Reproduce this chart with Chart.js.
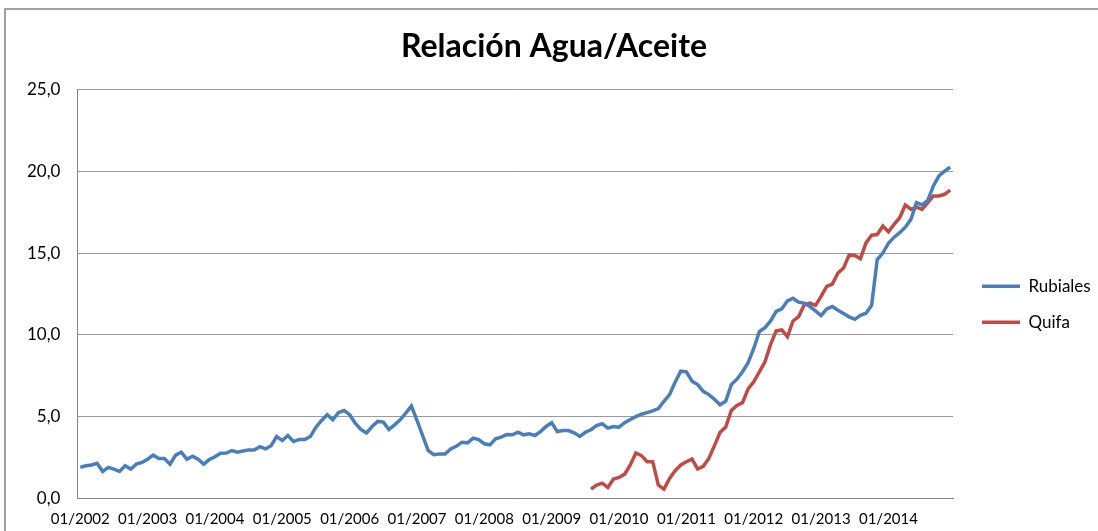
<!DOCTYPE html>
<html>
<head>
<meta charset="utf-8">
<script src="https://cdn.jsdelivr.net/npm/chart.js@4/dist/chart.umd.min.js"></script>
<style>
  html, body { margin: 0; padding: 0; background: #fff; }
  #wrap { position: relative; width: 1098px; height: 531px; overflow: hidden; }
  #frame { position: absolute; left: 4px; top: 8px; width: 1200px; height: 600px;
           border-top: 2px solid #a0a0a0; border-left: 2px solid #a0a0a0; pointer-events: none; }
</style>
</head>
<body>
<div id="wrap">
  <canvas id="chart1" width="1098" height="531"></canvas>
  <div id="frame"></div>
</div>
<script>
// monthly data 01/2002 - 12/2014
const years = [2002, 2003, 2004, 2005, 2006, 2007, 2008, 2009, 2010, 2011, 2012, 2013, 2014]
const months = ['01','02','03','04','05','06','07','08','09','10','11','12']

const rubiales = [
  1.9, 2.0, 2.05, 2.15, 1.65, 1.9, 1.8, 1.65, 2.0, 1.8, 2.1, 2.2,
  2.4, 2.65, 2.45, 2.45, 2.1, 2.65, 2.83, 2.4, 2.58, 2.4, 2.1, 2.38,
  2.55, 2.76, 2.78, 2.93, 2.83, 2.9, 2.97, 2.97, 3.17, 3.03, 3.23, 3.79,
  3.54, 3.85, 3.48, 3.61, 3.61, 3.79, 4.36, 4.77, 5.12, 4.81, 5.24, 5.38,
  5.12, 4.6, 4.22, 4.01, 4.4, 4.71, 4.67, 4.22, 4.5, 4.81, 5.22, 5.65,
  4.77, 3.85, 2.93, 2.68, 2.72, 2.72, 3.03, 3.19, 3.44, 3.4, 3.69, 3.6,
  3.34, 3.28, 3.65, 3.75, 3.91, 3.89, 4.05, 3.89, 3.95, 3.85, 4.09, 4.4,
  4.63, 4.09, 4.15, 4.15, 4.01, 3.8, 4.05, 4.2, 4.45, 4.57, 4.3, 4.4,
  4.36, 4.63, 4.83, 5.0, 5.15, 5.25, 5.35, 5.49, 5.94, 6.35, 7.12, 7.78,
  7.74, 7.17, 6.96, 6.55, 6.35, 6.06, 5.73, 5.94, 6.96, 7.29, 7.75, 8.3,
  9.17, 10.2, 10.44, 10.85, 11.43, 11.59, 12.08, 12.24, 12.0, 11.94, 11.73, 11.47,
  11.18, 11.59, 11.73, 11.5, 11.3, 11.1, 10.95, 11.2, 11.32, 11.8, 14.6, 15.0,
  15.6, 15.97, 16.24, 16.58, 17.06, 18.08, 17.94, 18.22, 19.1, 19.72, 20.0, 20.25
]

// Quifa starts 08/2009
const quifaBlank = 91
const quifa = [
  0.57, 0.82, 0.94, 0.68, 1.19,
  1.29, 1.49, 2.05, 2.78, 2.62, 2.25, 2.25, 0.82, 0.57, 1.23, 1.7, 2.05,
  2.25, 2.41, 1.8, 1.97, 2.45, 3.23, 4.05, 4.36, 5.38, 5.69, 5.86, 6.7,
  7.13, 7.74, 8.35, 9.42, 10.24, 10.3, 9.89, 10.85, 11.12, 11.84, 11.94, 11.8,
  12.35, 12.96, 13.1, 13.78, 14.09, 14.87, 14.85, 14.66, 15.62, 16.09, 16.13, 16.65,
  16.3, 16.75, 17.16, 17.94, 17.67, 17.81, 17.67, 18.08, 18.49, 18.49, 18.59, 18.84
]

const labels = []
years.forEach(y => months.forEach(m => labels.push(m + '/' + y)))
const quifaData = Array(quifaBlank).fill(null).concat(quifa)

const fnt = 'Lato, "Open Sans", sans-serif'
Chart.defaults.font.family = fnt
Chart.defaults.color = '#000'

// keep the legend column at a fixed width and place it like the excel one
const legendBox = {
  id: 'legendBox',
  beforeLayout(chart) {
    const lg = chart.legend
    if (lg && !lg._fixed) {
      const fit = lg.fit
      lg.fit = function () { fit.call(this); this.width = 145 }
      lg._fixed = true
    }
  },
  afterLayout(chart) {
    const lg = chart.legend
    lg.left += 10
    lg.right += 10
    lg.top += 34
    lg.bottom += 34
  }
}

var g1 = {
  type: 'line',
  data: {
    labels: labels,
    datasets: [{
      label: 'Rubiales',
      data: rubiales,
      borderColor: '#4a7ebb',
      backgroundColor: '#4a7ebb',
      borderWidth: 3.5,
      pointRadius: 0,
      tension: 0
    }, {
      label: 'Quifa',
      data: quifaData,
      borderColor: '#be4b48',
      backgroundColor: '#be4b48',
      borderWidth: 3.5,
      pointRadius: 0,
      tension: 0,
      spanGaps: false
    }]
  },
  options: {
    responsive: false,
    animation: false,
    layout: { padding: { left: 10, right: 0, top: 0, bottom: -9.5 } },
    plugins: {
      title: {
        display: true,
        text: 'Relación Agua/Aceite',
        font: { size: 32, weight: 'bold', family: fnt },
        color: '#000',
        padding: { top: 27, bottom: 24 }
      },
      legend: {
        position: 'right',
        labels: {
          usePointStyle: true,
          pointStyle: 'line',
          pointStyleWidth: 38,
          padding: 19,
          font: { size: 17 },
          color: '#000'
        }
      },
      tooltip: { enabled: false }
    },
    scales: {
      x: {
        offset: true,
        grid: { display: false, drawTicks: false },
        border: { display: true, color: '#868686', width: 1 },
        ticks: {
          autoSkip: false,
          maxRotation: 0,
          padding: 12,
          font: { size: 15 },
          callback: function (v, i) { return i % 12 === 0 ? labels[i] : null }
        }
      },
      y: {
        min: 0,
        max: 25,
        grid: { color: '#9a9a9a', drawTicks: false },
        border: { display: true, color: '#868686', width: 1 },
        ticks: {
          stepSize: 5,
          padding: 17,
          font: { size: 17 },
          callback: v => v.toFixed(1).replace('.', ',')
        }
      }
    }
  },
  plugins: [legendBox]
}

var graf = new Chart(document.getElementById('chart1'), g1)
</script>
</body>
</html>
